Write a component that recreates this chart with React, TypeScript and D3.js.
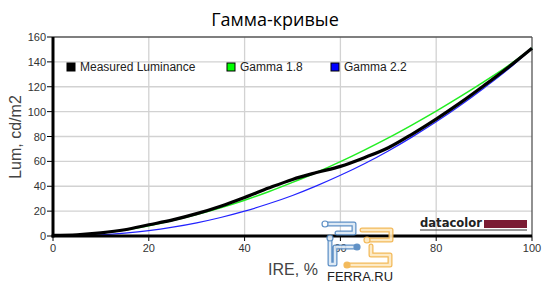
import React from "react";
import * as d3 from "d3";

const ire = [0, 5, 10, 15, 20, 25, 30, 35, 40, 45, 50, 55, 60, 65, 70, 75, 80, 85, 90, 95, 100];
const measured = [0.5, 1, 2.5, 5, 9, 13, 18, 24, 31, 38.5, 45.5, 51, 56, 63, 71, 82, 94, 107, 121, 135.5, 151];
const gamma18 = [0, 0.7, 2.4, 4.9, 8.3, 12.4, 17.2, 22.7, 28.8, 35.6, 43.1, 51.1, 59.8, 69.1, 78.9, 89.4, 100.4, 112.0, 124.1, 136.8, 151];
const gamma22 = [0, 0.2, 0.9, 2.3, 4.3, 7.1, 10.6, 14.9, 20.0, 25.9, 32.6, 40.3, 48.8, 58.1, 68.4, 79.7, 91.8, 104.9, 119.0, 134.0, 151];
const xTicks = [0, 20, 40, 60, 80, 100];
const yTicks = [0, 20, 40, 60, 80, 100, 120, 140, 160];
const seriesNames = ["Measured Luminance", "Gamma 1.8", "Gamma 2.2"];
const seriesColors = ["#000000", "#22ee22", "#2222ff"];
const legendFills = ["#000000", "#00ff00", "#0000ff"];

const W = 550, H = 284;
const L = 53, R = 532, T = 37, B = 236;

export default function App() {
  const x = d3.scaleLinear().domain([0, 100]).range([L, R]);
  const y = d3.scaleLinear().domain([0, 160]).range([B, T]);
  const mk = (vals: number[]) =>
    d3.line<number>().x((_, i) => x(ire[i])).y((v) => y(v)).curve(d3.curveMonotoneX)(vals) || "";
  const font = "'Liberation Sans', Arial, sans-serif";
  const legendX = [67, 227, 331];
  return (
    <svg width={W} height={H} style={{ position: "absolute", left: 0, top: 0, background: "#fff" }} fontFamily={font}>
      <rect x={0} y={0} width={W} height={H} fill="#fff" />
      <text x={275} y={26} textAnchor="middle" fontSize={18} fontFamily="'Open Sans', 'Noto Sans', sans-serif" fill="#000">Гамма-кривые</text>
      {yTicks.filter((t) => t > 0 && t < 160).map((t) => (
        <line key={"gy" + t} x1={L} x2={R} y1={y(t)} y2={y(t)} stroke="#d2d2d2" strokeWidth={1.3} />
      ))}
      {xTicks.filter((t) => t > 0 && t < 100).map((t) => (
        <line key={"gx" + t} x1={x(t)} x2={x(t)} y1={T} y2={B} stroke="#d2d2d2" strokeWidth={1.3} />
      ))}
      <line x1={L} x2={R} y1={T} y2={T} stroke="#555" strokeWidth={1.3} />
      <line x1={R} x2={R} y1={T} y2={B} stroke="#555" strokeWidth={1.3} />
      <path d={mk(gamma22)} fill="none" stroke={seriesColors[2]} strokeWidth={1.2} />
      <path d={mk(gamma18)} fill="none" stroke={seriesColors[1]} strokeWidth={1.5} />
      <path d={mk(measured)} fill="none" stroke={seriesColors[0]} strokeWidth={3.2} />
      <line x1={L} x2={L} y1={T} y2={B + 1.5} stroke="#000" strokeWidth={3} />
      <line x1={L - 1.5} x2={R} y1={B} y2={B} stroke="#000" strokeWidth={3} />
      {yTicks.map((t) => (
        <g key={"yt" + t}>
          <line x1={L - 6} x2={L} y1={y(t)} y2={y(t)} stroke="#000" strokeWidth={1} />
          <text x={L - 7} y={y(t) + 4} textAnchor="end" fontSize={11} fill="#333">{t}</text>
        </g>
      ))}
      {xTicks.map((t) => (
        <g key={"xt" + t}>
          <line x1={x(t)} x2={x(t)} y1={B} y2={B + 5} stroke="#000" strokeWidth={1} />
          <text x={x(t)} y={B + 16} textAnchor="middle" fontSize={11} fill="#333">{t}</text>
        </g>
      ))}
      <text x={293} y={275} textAnchor="middle" fontSize={16} fill="#444">IRE, %</text>
      <text transform="translate(21,137) rotate(-90)" textAnchor="middle" fontSize={16} fill="#444">Lum, cd/m2</text>
      {seriesNames.map((n, i) => (
        <g key={n}>
          <rect x={legendX[i]} y={63} width={8} height={8} fill={legendFills[i]} stroke="#000" strokeWidth={1} />
          <text x={legendX[i] + 13} y={71} fontSize={12} fill="#222">{n}</text>
        </g>
      ))}
      <text x={420} y={227} fontSize={13} fontWeight="bold" fill="#222" fontFamily="'DejaVu Sans', sans-serif" textLength={62} lengthAdjust="spacingAndGlyphs">datacolor</text>
      <rect x={484} y={220} width={43} height={8} fill="#7b1c34" />
      <line x1={420} x2={527} y1={230} y2={230} stroke="#333" strokeWidth={1} />
      <g opacity={0.9} fill="none" strokeLinecap="round" strokeLinejoin="round">
        <g stroke="#4f86c0" strokeWidth={5}>
          <path d="M325,224 H354 V233 H337" />
          <path d="M330,238 V264 H335 V247 H356" />
        </g>
        <g stroke="#dbe8f5" strokeWidth={2.5}>
          <path d="M325,224 H354 V233 H337" />
          <path d="M330,238 V264 H335 V247 H356" />
        </g>
        <g stroke="#f2b34a" strokeWidth={5}>
          <path d="M362,230 H391 V240 H367" />
          <path d="M371,246 V255 H390 V265 H348" />
        </g>
        <g stroke="#fde8bf" strokeWidth={2.5}>
          <path d="M362,230 H391 V240 H367" />
          <path d="M371,246 V255 H390 V265 H348" />
        </g>
        <circle cx={325} cy={224} r={3} fill="#fff" stroke="#4f86c0" strokeWidth={1.2} />
        <circle cx={330} cy={238} r={3} fill="#dbe8f5" stroke="#4f86c0" strokeWidth={1.2} />
        <circle cx={357} cy={247} r={3} fill="#4f86c0" stroke="#4f86c0" strokeWidth={1.2} />
        <circle cx={367} cy={240} r={3} fill="#fde8bf" stroke="#f2b34a" strokeWidth={1.2} />
        <circle cx={347} cy={265} r={3} fill="#f2b34a" stroke="#f2b34a" strokeWidth={1.2} />
      </g>
      <text x={360} y={281} textAnchor="middle" fontSize={12} fill="#222" textLength={66} lengthAdjust="spacingAndGlyphs">FERRA.RU</text>
    </svg>
  );
}
